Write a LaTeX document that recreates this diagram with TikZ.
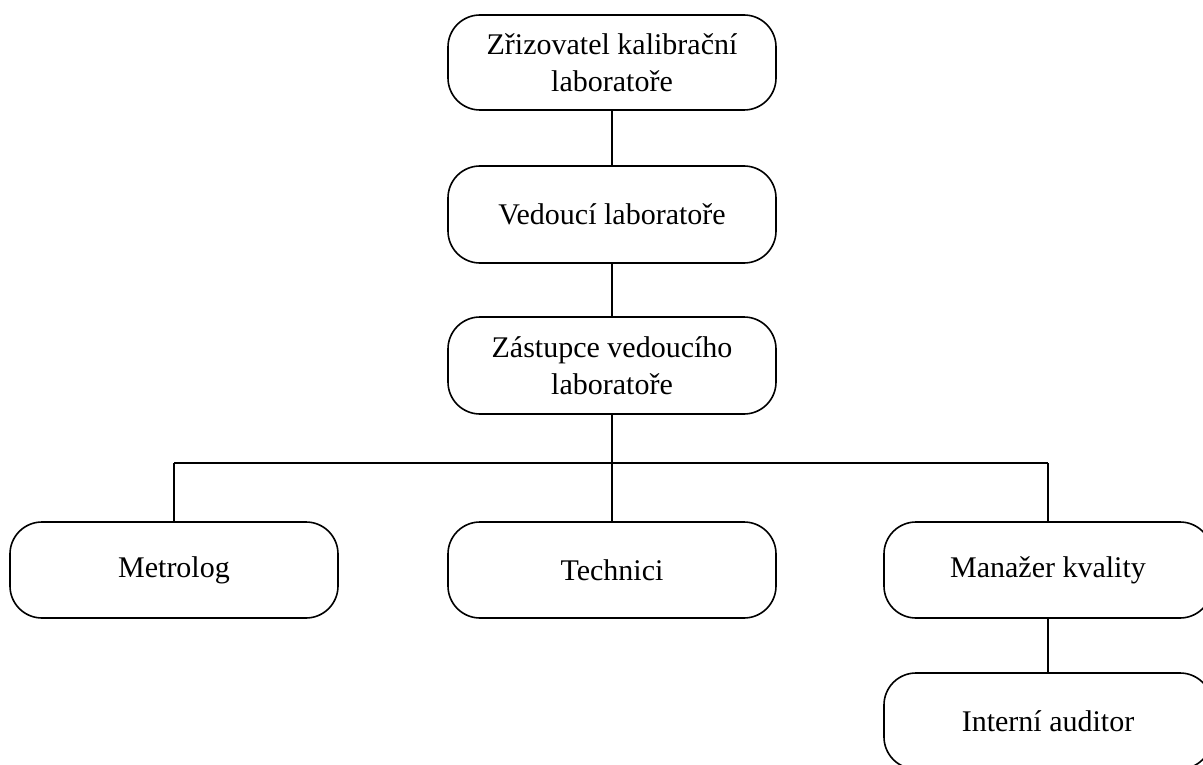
\documentclass[tikz,border=0pt]{standalone}
\usepackage{fontspec}
\setmainfont{Liberation Serif}
\begin{document}
\begin{tikzpicture}[x=1pt,y=-1pt,
  orgbox/.style={draw=black, line width=1.6pt, rounded corners=32pt,
    minimum width=328pt, minimum height=96pt, align=center, inner sep=0pt,
    font=\fontsize{30}{36.5}\selectfont},
  link/.style={draw=black, line width=1.6pt}]
\useasboundingbox (0,0) rectangle (1203,765);
\clip (0,0) rectangle (1203,765);
\node[orgbox, minimum height=95pt] (z) at (612,62.5) {Zřizovatel kalibrační\\laboratoře};
\node[orgbox, minimum height=97pt] (v) at (612,214.5) {Vedoucí laboratoře};
\node[orgbox, minimum height=97pt] (zs) at (612,365.5) {Zástupce vedoucího\\laboratoře};
\node[orgbox] (m) at (174,570) {Metrolog};
\node[orgbox] (t) at (612,570) {Technici};
\node[orgbox] (q) at (1048,570) {Manažer kvality};
\node[orgbox] (a) at (1048,721) {Interní auditor};
\coordinate (j) at (612,463);
\coordinate (jl) at (174,463);
\coordinate (jr) at (1048,463);
\draw[link] (z.south) -- (v.north);
\draw[link] (v.south) -- (zs.north);
\draw[link] (zs.south) -- (t.north);
\draw[link] (jl) -- (jr);
\draw[link] (jl) -- (m.north);
\draw[link] (jr) -- (q.north);
\draw[link] (q.south) -- (a.north);
\end{tikzpicture}
\end{document}
